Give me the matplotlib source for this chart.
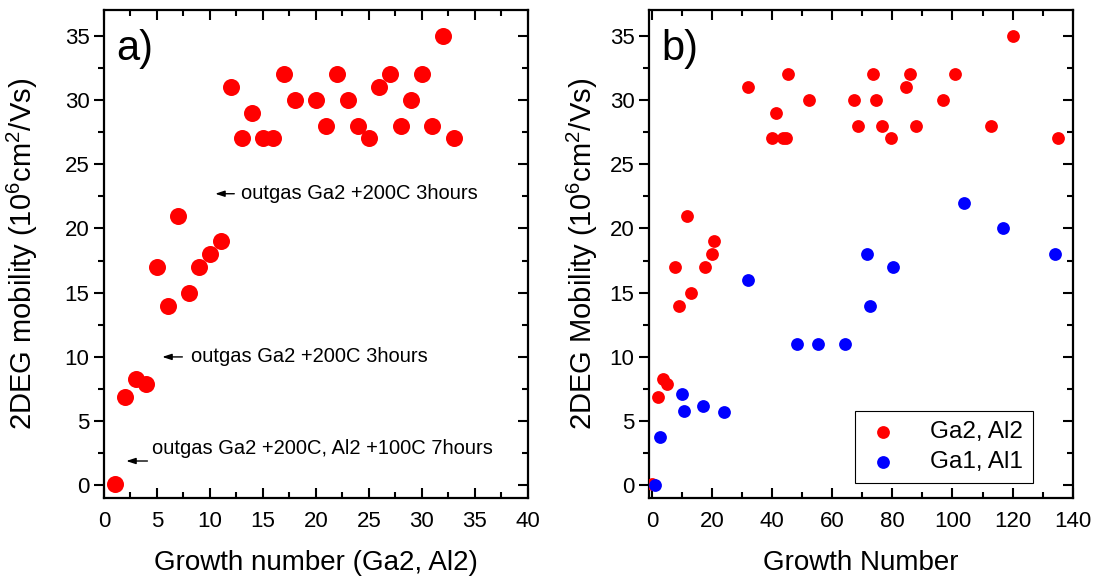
import matplotlib
matplotlib.use('Agg')
import matplotlib.pyplot as plt
from matplotlib.ticker import MultipleLocator

plt.rcParams['font.family'] = ['Liberation Sans', 'DejaVu Sans']
plt.rcParams['mathtext.default'] = 'regular'

# panel a) growth number (Ga2, Al2) vs mobility
a_growth = [1, 2, 3, 4, 5, 6, 7, 8, 9, 10, 11, 12, 13, 14, 15, 16, 17, 18,
            20, 21, 22, 23, 24, 25, 26, 27, 28, 29, 30, 31, 32, 33]
a_mobility = [0.1, 6.9, 8.3, 7.9, 17, 14, 21, 15, 17, 18, 19, 31, 27, 29, 27, 27, 32, 30,
              30, 28, 32, 30, 28, 27, 31, 32, 28, 30, 32, 28, 35, 27]

# panel b) overall growth number
ga2_growth = [0, 1.9, 3.5, 4.9, 7.8, 8.9, 11.5, 13, 17.8, 20, 20.8, 32, 40, 41.3, 43.5, 44.7,
              45.3, 52.2, 67.3, 68.5, 73.5, 74.4, 76.5, 79.7, 84.7, 85.9, 87.8, 96.7,
              100.8, 112.8, 120, 135]
ga2_mobility = [0.1, 6.9, 8.3, 7.9, 17, 14, 21, 15, 17, 18, 19, 31, 27, 29, 27, 27,
                32, 30, 30, 28, 32, 30, 28, 27, 31, 32, 28, 30,
                32, 28, 35, 27]
ga1_growth = [1, 2.8, 10, 10.8, 16.9, 24.1, 32.1, 48.1, 55.3, 64.3, 71.5, 72.5, 80.2,
              103.8, 116.9, 134.1]
ga1_mobility = [0, 3.8, 7.1, 5.8, 6.2, 5.7, 16, 11, 11, 11, 18, 14, 17, 22, 20, 18]

notes = ['outgas Ga2 +200C 3hours', 'outgas Ga2 +200C 3hours',
         'outgas Ga2 +200C, Al2 +100C 7hours']
note_tip = [(10.5, 22.7), (5.5, 10.0), (2.1, 1.9)]
note_tail = [(12.3, 22.7), (7.4, 10.0), (4.1, 1.9)]
note_text = [(12.95, 22.7), (8.2, 10.0), (4.5, 2.85)]

red = '#ff0000'
blue = '#0000ff'

fig = plt.figure(figsize=(10.97, 5.84), dpi=100)
ax1 = fig.add_axes([0.0948, 0.1468, 0.3862, 0.8361])
ax2 = fig.add_axes([0.5916, 0.1468, 0.3862, 0.8361])


def style(ax, xmaj, xmin):
    ax.set_ylim(-1, 37)
    ax.yaxis.set_major_locator(MultipleLocator(5))
    ax.yaxis.set_minor_locator(MultipleLocator(2.5))
    ax.xaxis.set_major_locator(MultipleLocator(xmaj))
    ax.xaxis.set_minor_locator(MultipleLocator(xmin))
    ax.tick_params(which='both', top=True, right=True, direction='in', width=1.5)
    ax.tick_params(axis='y', which='both', left=True, right=True, direction='out')
    ax.tick_params(which='major', length=7, labelsize=16)
    ax.tick_params(which='minor', length=4)
    ax.tick_params(axis='x', which='major', pad=9)
    # right spine ticks inward
    for t in ax.yaxis.get_major_ticks() + ax.yaxis.get_minor_ticks():
        t.tick2line.set_marker(0)
    for s in ax.spines.values():
        s.set_linewidth(1.6)


# ---- a)
ax1.scatter(a_growth, a_mobility, s=150, color=red, zorder=3, linewidths=0)
ax1.set_xlim(0, 40)
style(ax1, 5, 2.5)
ax1.set_xlabel('Growth number (Ga2, Al2)', fontsize=20)
ax1.set_ylabel('2DEG mobility (10$^6$cm$^2$/Vs)', fontsize=21)
ax1.xaxis.set_label_coords(0.5, -0.105)
ax1.yaxis.set_label_coords(-0.15, 0.5)
ax1.text(0.03, 0.92, 'a)', transform=ax1.transAxes, fontsize=30, va='center')
for txt, tip, tail, pos in zip(notes, note_tip, note_tail, note_text):
    ax1.annotate('', xy=tip, xytext=tail,
                 arrowprops=dict(arrowstyle='-|>,head_length=0.55,head_width=0.18',
                                 color='black', lw=1, shrinkA=0, shrinkB=0))
    ax1.text(pos[0], pos[1], txt, fontsize=14.5, va='center', ha='left')

# ---- b)
ax2.scatter(ga2_growth, ga2_mobility, s=85, color=red, zorder=3, linewidths=0,
            label='Ga2, Al2')
ax2.scatter(ga1_growth, ga1_mobility, s=85, color=blue, zorder=4, linewidths=0,
            label='Ga1, Al1')
ax2.set_xlim(-1, 140)
style(ax2, 20, 10)
ax2.set_xlabel('Growth Number', fontsize=20)
ax2.set_ylabel('2DEG Mobility (10$^6$cm$^2$/Vs)', fontsize=21)
ax2.xaxis.set_label_coords(0.5, -0.105)
ax2.yaxis.set_label_coords(-0.115, 0.5)
ax2.text(0.03, 0.92, 'b)', transform=ax2.transAxes, fontsize=30, va='center')
leg = ax2.legend(loc='lower right', bbox_to_anchor=(0.906, 0.031), fontsize=17.5,
                 fancybox=False, edgecolor='black', framealpha=1,
                 handletextpad=1.2, borderpad=0.4, labelspacing=0.35,
                 handlelength=1.5, scatterpoints=1, borderaxespad=0)
leg.get_frame().set_linewidth(0.8)

fig.savefig('out.png', dpi=100)
